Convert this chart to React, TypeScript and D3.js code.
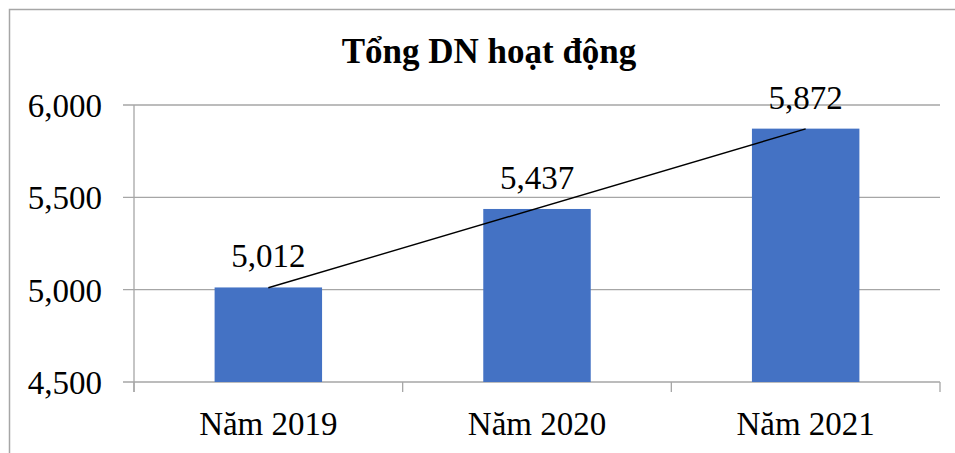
import React, { useEffect, useRef } from 'react';
import * as d3 from 'd3';

const TITLE = 'Tổng DN hoạt động';
const CATEGORIES = ['Năm 2019', 'Năm 2020', 'Năm 2021'];
const VALUES = [5012, 5437, 5872];
const Y_TICKS = [4500, 5000, 5500, 6000];

export default function App() {
  const ref = useRef<SVGSVGElement>(null);

  useEffect(() => {
    const svg = d3.select(ref.current);
    svg.selectAll('*').remove();
    const W = 955, H = 453;
    const m = { t: 105, r: 15, b: 71, l: 134 };
    const font = "'Liberation Serif', 'Times New Roman', serif";
    const grey = '#a6a6a6';

    const x = d3.scaleBand<string>().domain(CATEGORIES).range([m.l, W - m.r]).paddingInner(0.6).paddingOuter(0.3);
    const y = d3.scaleLinear().domain([4500, 6000]).range([H - m.b, m.t]);

    svg.append('rect').attr('width', W).attr('height', H).attr('fill', '#fff');
    // outer frame (cropped on the right and bottom)
    svg.append('rect').attr('x', 9.5).attr('y', 9.5).attr('width', 980).attr('height', 480)
      .attr('fill', 'none').attr('stroke', grey).attr('stroke-width', 1.5);

    // title
    svg.append('text').attr('x', 489).attr('y', 63).attr('text-anchor', 'middle')
      .attr('font-family', font).attr('font-weight', 'bold').attr('font-size', '35px').attr('fill', '#000')
      .text(TITLE);

    // gridlines + y ticks
    Y_TICKS.forEach(v => {
      svg.append('line').attr('x1', m.l - 11).attr('x2', W - m.r).attr('y1', y(v)).attr('y2', y(v))
        .attr('stroke', grey).attr('stroke-width', 1.3);
      svg.append('text').attr('x', 102).attr('y', y(v)).attr('dy', '0.36em').attr('text-anchor', 'end')
        .attr('font-family', font).attr('font-size', '33px').attr('fill', '#000')
        .text(d3.format(',')(v));
    });

    // y axis line
    svg.append('line').attr('x1', m.l).attr('x2', m.l).attr('y1', y(6000)).attr('y2', H - m.b + 10)
      .attr('stroke', grey).attr('stroke-width', 1.3);

    // x ticks at category boundaries
    const step = x.step();
    d3.range(CATEGORIES.length + 1).forEach(i => {
      const tx = m.l + i * step;
      svg.append('line').attr('x1', tx).attr('x2', tx).attr('y1', H - m.b).attr('y2', H - m.b + 10)
        .attr('stroke', grey).attr('stroke-width', 1.3);
    });

    // bars
    svg.selectAll('rect.bar').data(VALUES).enter().append('rect').attr('class', 'bar')
      .attr('x', (d, i) => x(CATEGORIES[i])!)
      .attr('width', x.bandwidth())
      .attr('y', d => y(d))
      .attr('height', d => y(4500) - y(d))
      .attr('fill', '#4472C4');

    // data labels
    VALUES.forEach((v, i) => {
      svg.append('text').attr('x', x(CATEGORIES[i])! + x.bandwidth() / 2).attr('y', y(v) - 20)
        .attr('text-anchor', 'middle').attr('font-family', font).attr('font-size', '33px').attr('fill', '#000')
        .text(d3.format(',')(v));
    });

    // category labels
    CATEGORIES.forEach(c => {
      svg.append('text').attr('x', x(c)! + x.bandwidth() / 2).attr('y', 435)
        .attr('text-anchor', 'middle').attr('font-family', font).attr('font-size', '33px').attr('fill', '#000')
        .text(c);
    });

    // linear trendline
    const idx = VALUES.map((_, i) => i);
    const mx = d3.mean(idx)!, my = d3.mean(VALUES)!;
    const slope = d3.sum(idx, i => (i - mx) * (VALUES[i] - my)) / d3.sum(idx, i => (i - mx) ** 2);
    const icpt = my - slope * mx;
    const ends = [0, VALUES.length - 1];
    svg.append('path').datum(ends).attr('fill', 'none').attr('stroke', '#000').attr('stroke-width', 1.4)
      .attr('d', d3.line<number>().x(i => x(CATEGORIES[i])! + x.bandwidth() / 2).y(i => y(icpt + slope * i)));
  }, []);

  return <svg ref={ref} width={955} height={453} style={{ position: 'absolute', left: 0, top: 0 }} />;
}
